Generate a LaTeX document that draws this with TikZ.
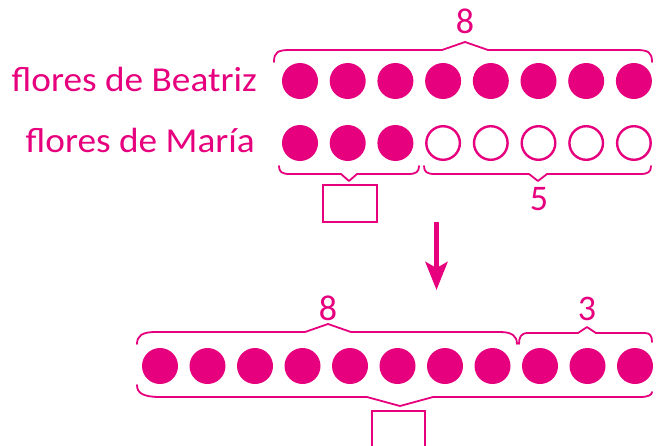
\documentclass[tikz,border=0pt]{standalone}
\usepackage{fontspec}
\setmainfont{Carlito}
\newfontfamily\lblfont[FakeStretch=1.065]{Carlito}
\usetikzlibrary{arrows.meta}
\definecolor{mag}{HTML}{E6007E}
\tikzset{
  dot/.style={circle,fill=mag,minimum size=36pt,inner sep=0pt},
  ring/.style={circle,draw=mag,line width=2.4pt,minimum size=33.6pt,inner sep=0pt},
  lbl/.style={text=mag,font=\lblfont\fontsize{35}{38}\selectfont,inner sep=0pt},
  num/.style={text=mag,font=\fontsize{36}{38}\selectfont,inner sep=0pt,anchor=base},
  brc/.style={draw=mag,line width=1.8pt,line join=round,line cap=round},
  answerbox/.style={draw=mag,line width=1.8pt}
}
\begin{document}
\begin{tikzpicture}[x=1pt,y=-1pt]
\useasboundingbox (0,0) rectangle (656,445);
% labels
\node[lbl,anchor=base east] (lb) at (257,91) {flores de Beatriz};
\node[lbl,anchor=base east] (lm) at (255,152) {flores de María};
% top row
\foreach \i in {0,...,7} {
  \node[dot] (b\i) at ({300+47.7*\i},81) {};
}
% second row
\foreach \i in {0,1,2} {
  \node[dot] (m\i) at ({300+47.7*\i},143) {};
}
\foreach \i in {3,...,7} {
  \node[ring] (m\i) at ({300+47.7*\i},143) {};
}
% top brace
\draw[brc] (274,62) .. controls (274,52) and (278,50) .. (290,50) -- (442,50) -- (465,42) -- (488,50) -- (636,50) .. controls (648,50) and (652,52) .. (652,62);
\node[num] (n8a) at (465,33) {8};
% brace under first three
\draw[brc] (279,166) .. controls (279,172) and (282,174) .. (290,174) -- (341,174) -- (349,181) -- (357,174) -- (408,174) .. controls (416,174) and (419,172) .. (419,166);
\node[answerbox,minimum width=54pt,minimum height=37pt,inner sep=0pt] (q1) at (350,203.5) {};
% brace under five
\draw[brc] (424,166) .. controls (424,172) and (427,174) .. (435,174) -- (529,174) -- (538,181) -- (547,174) -- (640,174) .. controls (648,174) and (651,172) .. (651,166);
\node[num] (n5) at (539,210) {5};
% arrow
\coordinate (a1) at (436.5,222);
\coordinate (a2) at (436.5,290);
\draw[mag,line width=5pt,-{Stealth[length=28pt,width=22pt,inset=6pt]}] (a1) -- (a2);
% bottom row
\foreach \i in {0,...,10} {
  \node[dot] (c\i) at ({160+47.5*\i},366) {};
}
% brace 8
\draw[brc] (137,344) .. controls (137,336) and (142,332) .. (155,332) -- (305,332) -- (328,324) -- (351,332) -- (500,332) .. controls (512,332) and (517,336) .. (517,344);
\node[num] (n8b) at (328,320) {8};
% brace 3
\draw[brc] (519,344) .. controls (519,337) and (521,333) .. (528,333) -- (578,333) -- (587,327) -- (596,333) -- (645,333) .. controls (650,333) and (652,336) .. (652,342);
\node[num] (n3) at (587,320) {3};
% bottom brace
\draw[brc] (137,385) .. controls (137,393) and (143,397) .. (160,397) -- (367,397) -- (400,406) -- (433,397) -- (640,397) .. controls (648,397) and (652,395) .. (652,392);
\draw[answerbox] (372,411) rectangle (425,455);
\end{tikzpicture}
\end{document}
